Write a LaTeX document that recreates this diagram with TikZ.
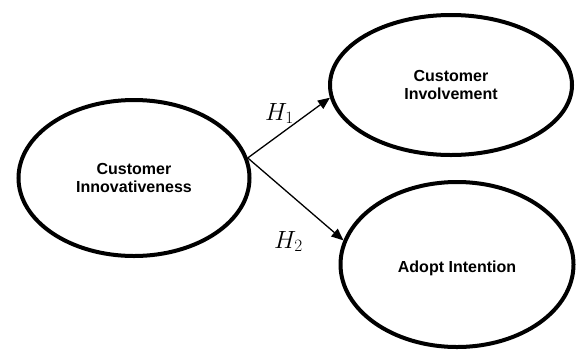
\documentclass[tikz,border=0pt]{standalone}
\usepackage{fontspec}
\setmainfont{Liberation Sans}
\usetikzlibrary{shapes.geometric,arrows.meta}
\tikzset{
  construct/.style={ellipse, draw=black, line width=4pt, inner sep=0pt, align=center,
    font=\fontsize{16}{18.5}\selectfont\bfseries},
  path arrow/.style={line width=1.3pt, -{Triangle[length=12pt,width=10pt]}},
  hyp/.style={inner sep=0pt, font=\fontsize{24}{28}\selectfont}
}
\begin{document}
\begin{tikzpicture}[x=1pt,y=1pt]
\useasboundingbox (0,0) rectangle (577,-351);
\node[construct, minimum width=231pt, minimum height=156pt] (ci) at (134,-178) {Customer\\Innovativeness};
\node[construct, minimum width=242pt, minimum height=140pt] (inv) at (451,-85) {Customer\\Involvement};
\node[construct, minimum width=233pt, minimum height=165pt] (ai) at (457,-264.5) {\raisebox{-3.5pt}[\height][\depth]{Adopt Intention}};
\draw[path arrow] (ci.10) -- (inv.186);
\draw[path arrow] (ci.10) -- (ai.168.6);
\node[hyp, anchor=base west] (h1) at (265,-120) {$H_1$};
\node[hyp, anchor=base west] (h2) at (274,-248) {$H_2$};
\end{tikzpicture}
\end{document}
